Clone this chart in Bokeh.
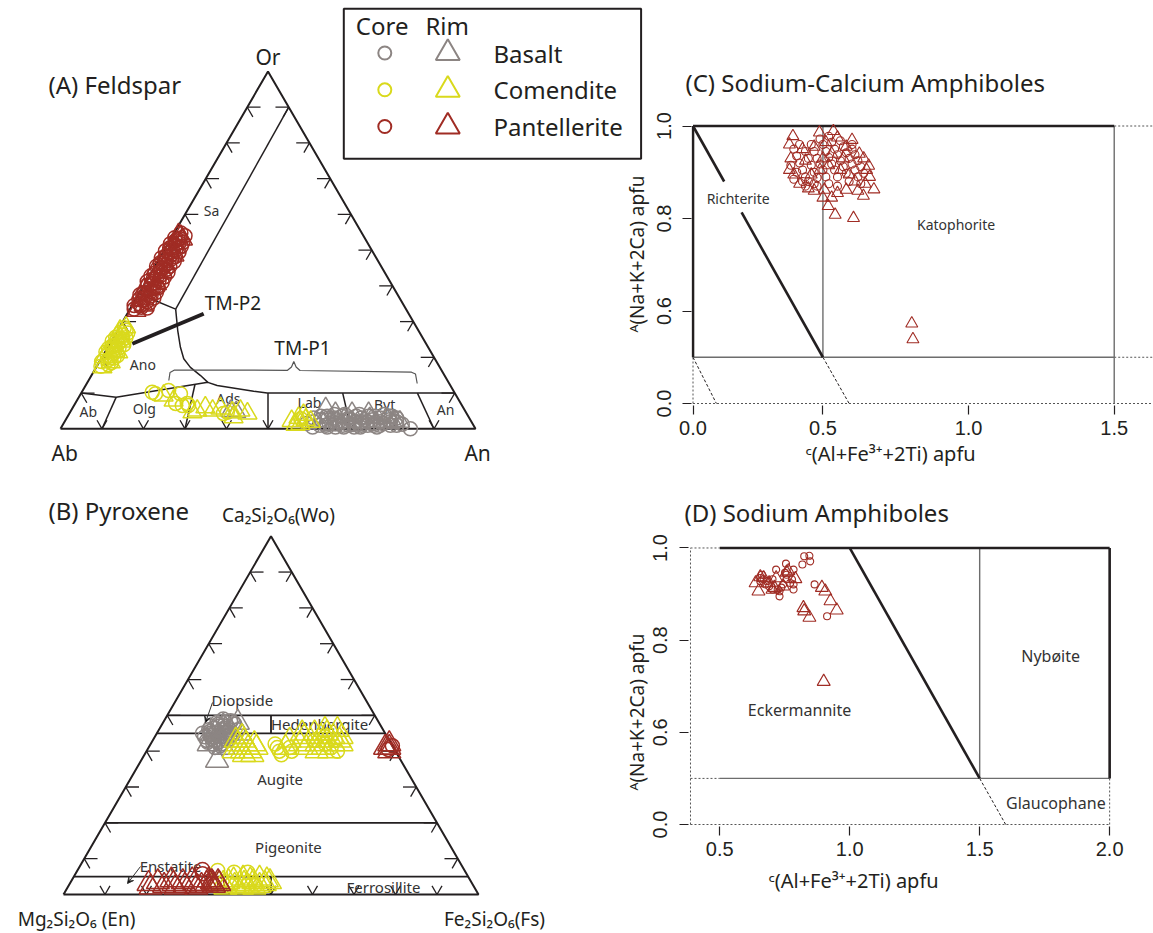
import math
from bokeh.plotting import figure
from bokeh.layouts import column, row
from bokeh.models import Range1d, FixedTicker, Arrow, VeeHead, Title
from bokeh.core.properties import value
from bokeh.embed import file_html
from bokeh.resources import INLINE

H = math.sqrt(3) / 2
GRAY = "#8c8583"
YEL = "#d9d91c"
RED = "#a02c24"
INK = "#231f20"
FONT = "Noto Sans"
NUMF = "Liberation Sans"

# ---------------- Panel A: feldspar (An, Or) fractions, Ab = 1 - An - Or
fsp_basalt_core = [(0.60,0.020),(0.62,0.010),(0.63,0.030),(0.64,0.015),(0.65,0.025),(0.66,0.005),(0.67,0.020),
                   (0.68,0.030),(0.69,0.010),(0.70,0.020),(0.71,0.030),(0.72,0.010),(0.73,0.020),(0.74,0.025),
                   (0.75,0.010),(0.76,0.020),(0.77,0.015),(0.78,0.025),(0.79,0.010),(0.80,0.020),(0.61,0.035),
                   (0.66,0.035),(0.70,0.040),(0.74,0.035),(0.68,0.005),(0.72,0.005),(0.76,0.005),(0.64,0.005),
                   (0.78,0.035),(0.817,0.013),(0.843,0.000),(0.585,0.015),(0.595,0.030),(0.605,0.005),
                   (0.615,0.025),(0.625,0.035),(0.635,0.010),(0.645,0.030),(0.655,0.015),(0.665,0.040),
                   (0.675,0.010),(0.685,0.025),(0.695,0.035),(0.705,0.005),(0.715,0.020),(0.725,0.035),
                   (0.735,0.010),(0.745,0.015),(0.755,0.030),(0.765,0.010),(0.775,0.035),(0.785,0.020),
                   (0.795,0.030),(0.805,0.010),(0.700,0.012),(0.660,0.020),(0.720,0.025),(0.760,0.040),(0.640,0.040)]
fsp_basalt_rim = [(0.61,0.058),(0.64,0.045),(0.62,0.020),(0.65,0.010),(0.67,0.030),(0.69,0.020),(0.71,0.010),
                  (0.73,0.030),(0.75,0.020),(0.77,0.030),(0.79,0.020),(0.796,0.022),(0.808,0.020),(0.385,0.050),
                  (0.400,0.047),(0.68,0.045),(0.72,0.045)]
fsp_comendite_core = [(0.010,0.175),(0.025,0.180),(0.005,0.188),(0.018,0.192),(0.030,0.198),(0.010,0.205),
                      (0.022,0.210),(0.002,0.215),(0.015,0.222),(0.028,0.226),(0.008,0.232),(0.020,0.238),
                      (0.012,0.246),(0.025,0.250),(0.005,0.256),(0.018,0.262),(0.010,0.270),(0.020,0.276),
                      (0.030,0.185),(0.035,0.205),(0.035,0.235),(0.030,0.255),(0.028,0.268),(0.003,0.225),
                      (0.002,0.245),(0.012,0.283),(0.022,0.198),(0.015,0.232),
                      (0.180,0.098),(0.207,0.107),(0.240,0.098),(0.276,0.065),(0.242,0.071),(0.270,0.071),
                      (0.371,0.043),(0.379,0.046),(0.170,0.102),(0.261,0.065),(0.565,0.028)]
fsp_comendite_rim = [(0.015,0.172),(0.028,0.186),(0.005,0.200),(0.020,0.218),(0.032,0.214),(0.008,0.240),
                     (0.024,0.244),(0.014,0.258),(0.006,0.275),(0.016,0.284),(0.202,0.093),(0.233,0.079),
                     (0.304,0.051),(0.319,0.060),(0.357,0.057),(0.391,0.046),(0.408,0.051),(0.429,0.043),
                     (0.401,0.032),(0.295,0.046),(0.341,0.051),(0.546,0.022),(0.558,0.031),(0.578,0.025),
                     (0.571,0.014),(0.561,0.011),(0.593,0.020),(0.566,0.039)]
fsp_pantellerite_core = [(0.010,0.335),(0.025,0.340),(0.015,0.350),(0.030,0.355),(0.008,0.362),(0.020,0.368),
                         (0.032,0.372),(0.012,0.380),(0.026,0.385),(0.018,0.392),(0.034,0.398),(0.008,0.402),
                         (0.022,0.408),(0.030,0.415),(0.014,0.420),(0.026,0.428),(0.010,0.435),(0.020,0.440),
                         (0.032,0.446),(0.015,0.452),(0.025,0.458),(0.008,0.465),(0.020,0.470),(0.030,0.476),
                         (0.012,0.482),(0.024,0.488),(0.018,0.495),(0.028,0.500),(0.010,0.506),(0.020,0.512),
                         (0.026,0.520),(0.014,0.526),(0.022,0.532),(0.040,0.338),(0.038,0.352),(0.042,0.366),
                         (0.005,0.345),(0.004,0.375),(0.040,0.382),(0.038,0.395),(0.003,0.412),(0.040,0.410),
                         (0.038,0.425),(0.004,0.428),(0.040,0.438),(0.036,0.455),(0.004,0.455),(0.040,0.468),
                         (0.036,0.482),(0.004,0.478),(0.038,0.495),(0.004,0.498),(0.036,0.510),(0.006,0.518),
                         (0.034,0.522),(0.008,0.535),(0.030,0.540),(0.016,0.548),(0.020,0.345),(0.018,0.360),
                         (0.028,0.392),(0.016,0.405),(0.020,0.425),(0.022,0.450),(0.016,0.475),(0.020,0.500),
                         (0.018,0.530)]
fsp_pantellerite_rim = [(0.018,0.330),(0.028,0.345),(0.012,0.358),(0.024,0.376),(0.006,0.390),(0.030,0.405),
                        (0.016,0.412),(0.028,0.438),(0.006,0.448),(0.022,0.462),(0.032,0.485),(0.010,0.492),
                        (0.024,0.508),(0.016,0.518),(0.030,0.530),(0.020,0.540),(0.012,0.545)]

# feldspar field boundaries (An, Or)
fsp_plag_top = [(0.0,0.10),(0.09,0.088),(0.29,0.13),(0.317,0.121),(0.413,0.105),(0.448,0.10),(0.90,0.10)]
fsp_plag_dividers = [((0.1,0.0),(0.09,0.088)),((0.3,0.0),(0.262,0.124)),((0.5,0.0),(0.45,0.10)),
                     ((0.7,0.0),(0.63,0.10)),((0.9,0.0),(0.81,0.10))]
fsp_sa_line = [(0.10,0.90),(0.11,0.335)]
fsp_sa_ano = [(0.0,0.378),(0.035,0.364),(0.11,0.335)]
fsp_ano_curve = [(0.11,0.335),(0.145,0.275),(0.175,0.228),(0.199,0.196),(0.227,0.172),(0.263,0.149),(0.29,0.13)]
fsp_tmp2 = [(0.054,0.238),(0.184,0.322)]
fsp_labels = [("Sa",0.058,0.612),("Ano",0.108,0.181),("Ab",0.043,0.048),("Olg",0.173,0.058),
              ("Ads",0.362,0.085),("Lab",0.563,0.074),("Byt",0.747,0.068),("An",0.901,0.054)]

# ---------------- Panel B: pyroxene (Wo, Fs) fractions, En = 1 - Wo - Fs
px_basalt_core = [(0.48,0.13),(0.47,0.14),(0.46,0.12),(0.45,0.13),(0.44,0.14),(0.43,0.15),(0.47,0.16),(0.46,0.17),
                  (0.45,0.15),(0.44,0.17),(0.43,0.13),(0.42,0.15),(0.48,0.15),(0.49,0.14),(0.45,0.11),(0.44,0.12),
                  (0.46,0.15),(0.47,0.12),(0.42,0.17),(0.43,0.18),(0.45,0.18),(0.46,0.19),(0.48,0.17),(0.44,0.16),
                  (0.41,0.16),(0.475,0.135),(0.465,0.155),(0.455,0.125),(0.435,0.14),(0.425,0.16),(0.445,0.185),
                  (0.475,0.175),(0.485,0.16),(0.455,0.165),(0.435,0.17),(0.445,0.13),(0.465,0.13),(0.425,0.135),
                  (0.415,0.17)]
px_basalt_rim = [(0.45,0.14),(0.47,0.15),(0.43,0.16),(0.44,0.19),(0.42,0.14),(0.46,0.16),(0.48,0.18),
                 (0.374,0.183),(0.45,0.20),(0.41,0.18)]
px_comendite_core = [(0.41,0.31),(0.40,0.32),(0.39,0.33),(0.41,0.34),(0.42,0.30),(0.40,0.35),(0.43,0.39),
                     (0.42,0.42),(0.41,0.44),(0.40,0.46),(0.44,0.41),(0.43,0.44),(0.067,0.338),(0.062,0.38),
                     (0.062,0.413),(0.03,0.39),(0.035,0.43),(0.025,0.45)]
px_comendite_rim = [(0.43,0.20),(0.42,0.21),(0.41,0.22),(0.40,0.23),(0.42,0.23),(0.41,0.24),(0.40,0.25),
                    (0.39,0.26),(0.41,0.26),(0.42,0.25),(0.43,0.22),(0.40,0.21),(0.39,0.24),(0.44,0.21),
                    (0.44,0.36),(0.45,0.38),(0.44,0.40),(0.43,0.42),(0.42,0.44),(0.44,0.43),(0.45,0.41),
                    (0.43,0.38),(0.42,0.40),(0.41,0.42),(0.43,0.45),(0.42,0.46),(0.44,0.45),(0.46,0.40),
                    (0.46,0.43),(0.41,0.38),(0.40,0.41),(0.40,0.44),(0.45,0.35),(0.43,0.33),(0.41,0.33),
                    (0.42,0.36),(0.03,0.36),(0.035,0.38),(0.025,0.40),(0.03,0.42),(0.035,0.44),(0.025,0.46),
                    (0.03,0.47),(0.04,0.39),(0.04,0.43),(0.02,0.38),(0.02,0.42),(0.02,0.45),(0.045,0.41),
                    (0.045,0.45),(0.03,0.37),(0.035,0.48),(0.025,0.43),(0.04,0.47)]
px_pantellerite_core = [(0.405,0.58),(0.415,0.585),(0.07,0.30),(0.058,0.306),(0.03,0.34),(0.025,0.35),(0.03,0.355)]
px_pantellerite_rim = [(0.41,0.58),(0.42,0.575),(0.40,0.585),(0.41,0.57),(0.03,0.19),(0.035,0.21),(0.025,0.23),
                       (0.03,0.25),(0.035,0.27),(0.025,0.28),(0.03,0.30),(0.025,0.32),(0.03,0.33),(0.035,0.34),
                       (0.025,0.35),(0.03,0.36),(0.02,0.20),(0.02,0.26),(0.02,0.31),(0.04,0.24),(0.04,0.29),
                       (0.04,0.33),(0.03,0.345),(0.035,0.355)]
px_wo_lines = [0.50, 0.45, 0.20, 0.05]
px_labels = [("Diopside",0.431,0.470),("Hedenbergite",0.617,0.411),("Augite",0.522,0.278),
             ("Pigeonite",0.542,0.114),("Enstatite",0.258,0.068),("Ferrosillite",0.771,0.017)]

# ---------------- Panel C: Na-Ca amphiboles, C(Al+Fe3+2Ti) vs A(Na+K+2Ca)
amc_pantellerite_core = [(0.40,0.950),(0.41,0.935),(0.42,0.920),(0.43,0.905),(0.44,0.890),(0.45,0.880),(0.42,0.960),
                         (0.44,0.945),(0.45,0.930),(0.46,0.915),(0.47,0.900),(0.48,0.888),(0.46,0.960),(0.47,0.945),
                         (0.48,0.930),(0.49,0.918),(0.50,0.905),(0.51,0.890),(0.50,0.960),(0.51,0.945),(0.52,0.932),
                         (0.53,0.918),(0.54,0.905),(0.55,0.890),(0.53,0.965),(0.54,0.950),(0.55,0.938),(0.56,0.925),
                         (0.57,0.912),(0.58,0.898),(0.57,0.955),(0.58,0.942),(0.59,0.930),(0.60,0.918),(0.61,0.905),
                         (0.62,0.890),(0.60,0.950),(0.61,0.938),(0.62,0.925),(0.63,0.912),(0.64,0.898),(0.63,0.875),
                         (0.59,0.880),(0.55,0.870),(0.52,0.875),(0.48,0.870),(0.44,0.870),(0.41,0.900),(0.39,0.915),
                         (0.40,0.885),(0.52,0.978),(0.49,0.972),(0.56,0.968),(0.60,0.960),(0.43,0.880),(0.47,0.875)]
amc_pantellerite_rim = [(0.397,0.978),(0.488,0.986),(0.536,0.989),(0.385,0.960),(0.39,0.930),(0.385,0.905),
                        (0.40,0.895),(0.42,0.875),(0.45,0.865),(0.47,0.860),(0.50,0.845),(0.53,0.845),(0.518,0.827),
                        (0.542,0.808),(0.605,0.801),(0.505,0.862),(0.55,0.855),(0.58,0.862),(0.62,0.860),
                        (0.639,0.849),(0.675,0.863),(0.657,0.914),(0.66,0.890),(0.645,0.875),(0.625,0.940),
                        (0.60,0.970),(0.58,0.955),(0.55,0.975),(0.51,0.965),(0.47,0.955),(0.44,0.925),(0.43,0.950),
                        (0.46,0.895),(0.49,0.905),(0.52,0.915),(0.56,0.905),(0.59,0.895),(0.61,0.880),(0.57,0.930),
                        (0.53,0.940),(0.50,0.930),(0.64,0.930),(0.65,0.905),(0.805,0.573),(0.809,0.539)]
amc_thick = [((0,1),(1.5,1)),((0,0.5),(0,1)),((0,1),(0.12,0.88)),((0.187,0.813),(0.5,0.5))]
amc_thin = [((0,0.5),(1.5,0.5)),((0.5,0.5),(0.5,1)),((1.5,0),(1.5,1))]
amc_dotted = [((1.5,1),(1.8,1)),((1.5,0.5),(1.8,0.5)),((0,0),(1.8,0)),((0,0),(0,0.5))]
amc_dashed = [((0,0.5),(0.09,0)),((0.5,0.5),(0.59,0))]

# ---------------- Panel D: Na amphiboles
amd_pantellerite_core = [(0.825,0.982),(0.845,0.983),(0.848,0.971),(0.818,0.964),(0.784,0.953),(0.755,0.966),
                         (0.717,0.953),(0.865,0.921),(0.913,0.852),(0.784,0.921),(0.784,0.910),(0.737,0.914),
                         (0.730,0.895),(0.703,0.910),(0.690,0.917),(0.669,0.932),(0.656,0.935),(0.662,0.942),
                         (0.683,0.928),(0.757,0.942),(0.757,0.932),(0.744,0.921),(0.771,0.924),(0.723,0.910),
                         (0.656,0.928),(0.676,0.921),(0.703,0.932),(0.730,0.906),(0.778,0.932),(0.751,0.946)]
amd_pantellerite_rim = [(0.638,0.924),(0.649,0.906),(0.656,0.937),(0.690,0.924),(0.703,0.910),(0.710,0.914),
                        (0.757,0.947),(0.764,0.950),(0.791,0.933),(0.893,0.914),(0.906,0.906),(0.926,0.885),
                        (0.950,0.865),(0.822,0.870),(0.825,0.863),(0.845,0.849),(0.900,0.710),(0.717,0.935),
                        (0.744,0.917),(0.669,0.935)]
amd_thick = [((0.5,1),(2.0,1)),((2.0,0.5),(2.0,1)),((1.0,1),(1.5,0.5))]
amd_thin = [((0.5,0.5),(2.0,0.5)),((1.5,0.5),(1.5,1))]
amd_dotted = [((0,1),(0.5,1)),((0,0.5),(0.5,0.5)),((0,0),(2.0,0)),((0,0),(0,1)),((2.0,0),(2.0,0.5))]
amd_dashed = [((1.5,0.5),(1.6,0))]

series_colors = {"Basalt": GRAY, "Comendite": YEL, "Pantellerite": RED}


def tA(pairs):
    return [a + o / 2 for a, o in pairs], [o * H for a, o in pairs]


def tB(pairs):
    return [f + w / 2 for w, f in pairs], [w * H for w, f in pairs]


def txt(p, x, y, s, size, align="center", angle=0.0, font=FONT, color=INK, baseline="middle"):
    p.text(x=[x], y=[y], text=[s], text_font=value(font), text_font_size=size, text_align=align,
           text_baseline=baseline, angle=angle, text_color=color)


def ternary_frame(p):
    p.line([0, 1, 0.5, 0], [0, 0, H, 0], line_color=INK, line_width=2)
    x0s, y0s, x1s, y1s = [], [], [], []
    L1, L2, LB = 0.032, 0.027, 0.024
    for i in range(1, 10):
        t = i / 10
        xl, yl = t / 2, t * H
        x0s += [xl, xl]; y0s += [yl, yl]; x1s += [xl + L1, xl + 0.5 * L2]; y1s += [yl, yl - H * L2]
        xr, yr = 1 - t / 2, t * H
        x0s += [xr, xr]; y0s += [yr, yr]; x1s += [xr - L1, xr - 0.5 * L2]; y1s += [yr, yr - H * L2]
        x0s += [t, t]; y0s += [0, 0]; x1s += [t + 0.5 * LB, t - 0.5 * LB]; y1s += [H * LB, H * LB]
    p.segment(x0s, y0s, x1s, y1s, line_color=INK, line_width=1.3)


def tern_fig(w, h, xr, yr):
    p = figure(width=w, height=h, x_range=Range1d(*xr), y_range=Range1d(*yr), output_backend="svg",
               toolbar_location=None, min_border=0, x_axis_location=None, y_axis_location=None, title=None)
    p.frame_align = False
    p.grid.visible = False
    p.outline_line_color = None
    p.background_fill_color = "white"
    p.border_fill_color = "white"
    return p

# ======================= Panel A =======================
SXA, SYA = 415.0, 412.6
pA = tern_fig(650, 480, (-60 / SXA, 590 / SXA), (-51.7 / SYA, 428.3 / SYA))
ax = lambda px: (px - 60) / SXA
ay = lambda py: (428.3 - py) / SYA
ternary_frame(pA)
for seg in [fsp_plag_top, fsp_sa_line, fsp_sa_ano, fsp_ano_curve]:
    xs, ys = tA(seg)
    pA.line(xs, ys, line_color=INK, line_width=1.5)
for a, b in fsp_plag_dividers:
    xs, ys = tA([a, b])
    pA.line(xs, ys, line_color=INK, line_width=1.5)
xs, ys = tA(fsp_tmp2)
pA.line(xs, ys, line_color=INK, line_width=4)
brace_px = [(168.3,380),(169.5,372),(174,369.5),(287,369.8),(291,366.5),(293.3,361),(295.6,366.5),
            (299.5,370),(411,371.7),(415,373.5),(416.7,383)]
pA.line([ax(a) for a, b in brace_px], [ay(b) for a, b in brace_px], line_color="#555555", line_width=1.2)

for name, an, o in fsp_labels:
    txt(pA, an + o / 2, o * H, name, "14px", color="#333333")
txt(pA, ax(232.5), ay(302), "TM-P2", "19px")
txt(pA, ax(302), ay(347), "TM-P1", "19px")
txt(pA, 0.5, H + 0.036, "Or", "21px")
txt(pA, 0.01, -0.058, "Ab", "21px")
txt(pA, 1.005, -0.058, "An", "21px")
txt(pA, ax(48), ay(84), "(A) Feldspar", "24px", align="left")

for data, col in [(fsp_basalt_core, GRAY), (fsp_comendite_core, YEL), (fsp_pantellerite_core, RED)]:
    xs, ys = tA(data)
    pA.scatter(xs, ys, marker="circle", size=14, fill_color=None, line_color=col, line_width=1.5)
for data, col in [(fsp_basalt_rim, GRAY), (fsp_comendite_rim, YEL), (fsp_pantellerite_rim, RED)]:
    xs, ys = tA(data)
    pA.scatter(xs, ys, marker="triangle", size=19, fill_color=None, line_color=col, line_width=1.5)

# legend (drawn in panel A's canvas)
pA.quad(left=[ax(343.3)], right=[ax(640.6)], top=[ay(8.3)], bottom=[ay(158.3)], fill_color=None,
        line_color=INK, line_width=2)
txt(pA, ax(381.7), ay(25), "Core", "24px")
txt(pA, ax(446.7), ay(25), "Rim", "24px")
leg_rows = [52.5, 89.3, 126.0]
for (name, col), ry in zip(series_colors.items(), leg_rows):
    pA.scatter([ax(384.3)], [ay(ry)], marker="circle", size=13, fill_color=None, line_color=col, line_width=2)
    pA.scatter([ax(447.3)], [ay(ry)], marker="triangle", size=24, fill_color=None, line_color=col, line_width=2)
    txt(pA, ax(493), ay(ry), name, "24px", align="left")
# y-axis title of panel C (sits left of panel C's canvas)
txt(pA, ax(636.5), ay(253.5), "ᴬ(Na+K+2Ca) apfu", "19px", angle=math.pi / 2)

# ======================= Panel B =======================
SXB, SYB = 415.0, 413.7
pB = tern_fig(620, 453, (-63 / SXB, 557 / SXB), ((894 - 933) / SYB, (894 - 480) / SYB))
bx = lambda px: (px - 63) / SXB
by = lambda py: (894 - py) / SYB
ternary_frame(pB)
for w in px_wo_lines:
    pB.line([w / 2, 1 - w / 2], [w * H, w * H], line_color=INK, line_width=1.8)
pB.line([0.5, 0.5], [0.45 * H, 0.50 * H], line_color=INK, line_width=1.8)
pB.line([0.5, 0.5], [0.0, 0.05 * H], line_color=INK, line_width=1.8)
for name, x, y in px_labels:
    txt(pB, x, y, name, "15px", color="#333333")
pB.add_layout(Arrow(end=VeeHead(size=6, line_color="#333333", line_width=1), x_start=bx(212), y_start=by(702),
                    x_end=bx(205), y_end=by(722), line_color="#333333", line_width=1))
pB.add_layout(Arrow(end=VeeHead(size=6, line_color="#333333", line_width=1), x_start=bx(140), y_start=by(866),
                    x_end=bx(127), y_end=by(883), line_color="#333333", line_width=1))
txt(pB, bx(278), by(514), "Ca₂Si₂O₆(Wo)", "19px")
txt(pB, bx(76), by(918), "Mg₂Si₂O₆ (En)", "19px")
txt(pB, bx(494), by(918), "Fe₂Si₂O₆(Fs)", "19px")
txt(pB, bx(48), by(510), "(B) Pyroxene", "24px", align="left")
for data, col in [(px_basalt_core, GRAY), (px_comendite_core, YEL), (px_pantellerite_core, RED)]:
    xs, ys = tB(data)
    pB.scatter(xs, ys, marker="circle", size=14, fill_color=None, line_color=col, line_width=1.5)
for data, col in [(px_basalt_rim, GRAY), (px_comendite_rim, YEL), (px_pantellerite_rim, RED)]:
    xs, ys = tB(data)
    pB.scatter(xs, ys, marker="triangle", size=23, fill_color=None, line_color=col, line_width=1.5)


# ======================= Panels C, D =======================
def style_axes(p, xt, xl, yt, yl):
    p.xaxis.ticker = FixedTicker(ticks=xt)
    p.xaxis.major_label_overrides = dict(zip(xt, xl))
    p.yaxis.ticker = FixedTicker(ticks=yt)
    p.yaxis.major_label_overrides = dict(zip(yt, yl))
    p.yaxis.major_label_orientation = "vertical"
    for a in [p.xaxis[0], p.yaxis[0]]:
        a.axis_line_color = None
        a.major_tick_line_color = INK
        a.major_tick_line_width = 1.2
        a.major_tick_out = 9
        a.major_tick_in = 0
        a.minor_tick_line_color = None
        a.major_label_text_font = NUMF
        a.major_label_text_font_size = "20px"
        a.major_label_text_color = INK
        a.major_label_standoff = 6
    p.yaxis[0].major_label_standoff = 12
    p.grid.visible = False
    p.outline_line_color = None
    p.frame_align = False


def draw_segs(p, segs, fx, fy, **kw):
    for (x0, y0), (x1, y1) in segs:
        p.line([fx(x0), fx(x1)], [fy(y0), fy(y1)], **kw)


def mk_title(text, size, align, offset, standoff):
    return Title(text=text, text_font=FONT, text_font_size=size, text_font_style="normal", text_color=INK,
                 align=align, offset=offset, standoff=standoff)

# ---- C
XL_C = 0.054
cx = lambda x: x if x >= 0.5 else XL_C + x * (0.5 - XL_C) / 0.5
cy = lambda y: y if y >= 0.5 else 0.4 + y * 0.2
pC = figure(width=503, height=480, x_range=Range1d(XL_C - 1.5 / 291.3, XL_C + 460.5 / 291.3),
            y_range=Range1d(0.4 - 2 / 462.5, 0.4 + 283 / 462.5), output_backend="svg", toolbar_location=None,
            min_border_left=41, min_border_right=0, min_border_top=120, min_border_bottom=75,
            title=mk_title("(C) Sodium-Calcium Amphiboles", "24px", "left", -6, 44))
style_axes(pC, [XL_C, 0.5, 1.0, 1.5], ["0.0", "0.5", "1.0", "1.5"], [0.4, 0.6, 0.8, 1.0], ["0.0", "0.6", "0.8", "1.0"])
draw_segs(pC, amc_dotted, cx, cy, line_color="#555555", line_width=1, line_dash="2 2")
draw_segs(pC, amc_dashed, cx, cy, line_color=INK, line_width=1, line_dash="3 2")
draw_segs(pC, amc_thin, cx, cy, line_color="#6d6d6d", line_width=1.4)
draw_segs(pC, amc_thick, cx, cy, line_color=INK, line_width=2.6)
pC.scatter([x for x, y in amc_pantellerite_core], [y for x, y in amc_pantellerite_core], marker="circle", size=8,
           fill_color=None, line_color=RED, line_width=1.1)
pC.scatter([x for x, y in amc_pantellerite_rim], [y for x, y in amc_pantellerite_rim], marker="triangle", size=12,
           fill_color=None, line_color=RED, line_width=1.1)
pC.text(x=[0.209, 0.957], y=[0.843, 0.787], text=["Richterite", "Katophorite"], text_font=value(FONT),
        text_font_size="14px", text_align="center", text_baseline="middle", text_color="#333333")
pC.add_layout(mk_title("ᶜ(Al+Fe³⁺+2Ti) apfu", "20px", "left", 114, 0), "below")

# ---- D
XL_D = 0.3875
dx = lambda x: x if x >= 0.5 else XL_D + x * (0.5 - XL_D) / 0.5
dy = cy
pD = figure(width=533, height=453, x_range=Range1d(XL_D - 2 / 260.5, XL_D + 464 / 260.5),
            y_range=Range1d(0.4 - 2 / 462.5, 0.4 + 284 / 462.5), output_backend="svg", toolbar_location=None,
            min_border_left=67, min_border_right=0, min_border_top=60, min_border_bottom=107,
            title=mk_title("(D) Sodium Amphiboles", "24px", "left", -4, 26))
style_axes(pD, [0.5, 1.0, 1.5, 2.0], ["0.5", "1.0", "1.5", "2.0"], [0.4, 0.6, 0.8, 1.0], ["0.0", "0.6", "0.8", "1.0"])
draw_segs(pD, amd_dotted, dx, dy, line_color="#555555", line_width=1, line_dash="2 2")
draw_segs(pD, amd_dashed, dx, dy, line_color=INK, line_width=1, line_dash="3 2")
draw_segs(pD, amd_thin, dx, dy, line_color="#6d6d6d", line_width=1.4)
draw_segs(pD, amd_thick, dx, dy, line_color=INK, line_width=2.6)
pD.scatter([x for x, y in amd_pantellerite_core], [y for x, y in amd_pantellerite_core], marker="circle", size=7,
           fill_color=None, line_color=RED, line_width=1.1)
pD.scatter([x for x, y in amd_pantellerite_rim], [y for x, y in amd_pantellerite_rim], marker="triangle", size=13,
           fill_color=None, line_color=RED, line_width=1.1)
pD.text(x=[1.773, 0.807, 1.793], y=[0.766, 0.649, dy(0.233)], text=["Nybøite", "Eckermannite", "Glaucophane"],
        text_font=value(FONT), text_font_size="16px", text_align="center", text_baseline="middle",
        text_color="#333333")
pD.add_layout(mk_title("ᶜ(Al+Fe³⁺+2Ti) apfu", "20px", "left", 80, 13), "below")
pD.add_layout(mk_title("ᴬ(Na+K+2Ca) apfu", "19px", "left", 36, 2), "left")

layout = column(row(pA, pC), row(pB, pD))
open("out.html", "w").write(file_html(layout, INLINE))
